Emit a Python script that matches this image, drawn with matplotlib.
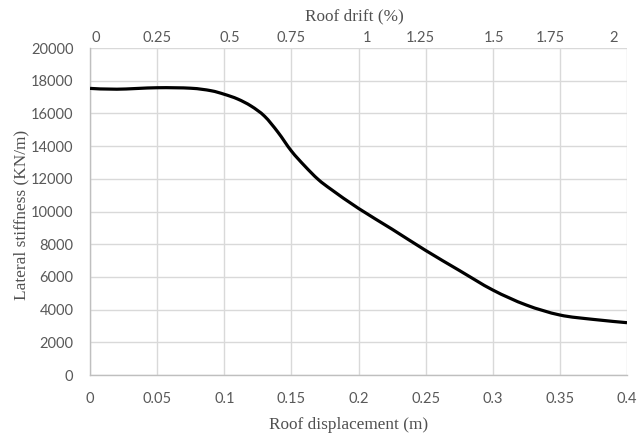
import numpy as np
import matplotlib.pyplot as plt
from matplotlib.path import Path
from matplotlib.patches import PathPatch
from matplotlib.transforms import ScaledTranslation

# roof displacement (m) vs lateral stiffness (KN/m)
disp = [0, 0.02, 0.05, 0.075, 0.09, 0.1, 0.11, 0.12, 0.13, 0.14, 0.15,
        0.16, 0.17, 0.18, 0.2, 0.225, 0.25, 0.275, 0.3, 0.325, 0.35, 0.375, 0.4]
stiff = [17530, 17480, 17570, 17540, 17390, 17170, 16880, 16450, 15830, 14850, 13700,
         12780, 11960, 11330, 10190, 8920, 7620, 6400, 5200, 4280, 3670, 3400, 3200]

x_ticks = [0, 0.05, 0.1, 0.15, 0.2, 0.25, 0.3, 0.35, 0.4]
x_labels = ['0', '0.05', '0.1', '0.15', '0.2', '0.25', '0.3', '0.35', '0.4']
drift_ticks = [0, 0.25, 0.5, 0.75, 1, 1.25, 1.5, 1.75, 2]
drift_labels = ['0', '0.25', '0.5', '0.75', '1', '1.25', '1.5', '1.75', '2']
y_ticks = list(range(0, 20001, 2000))

# Excel nudges the top labels a few pixels off their ticks
drift_label_shift = [6, 0, 6, 0, 8, -5, 1, -10, -13]

tick_font = dict(family='Lato', size=10.5, color='#595959')
label_font = dict(family='Liberation Serif', size=12.4, color='#505050')

fig = plt.figure(figsize=(6.37, 4.38), dpi=100)
ax = fig.add_axes([0.1413, 0.1438, 0.843, 0.7466])

# smoothed line like Excel: Catmull-Rom segments as cubic Bezier curves
pts = np.column_stack([disp, stiff])
verts = [pts[0]]
codes = [Path.MOVETO]
for i in range(len(pts) - 1):
    p0 = pts[max(i - 1, 0)]
    p1 = pts[i]
    p2 = pts[i + 1]
    p3 = pts[min(i + 2, len(pts) - 1)]
    verts += [p1 + (p2 - p0) / 6, p2 - (p3 - p1) / 6, p2]
    codes += [Path.CURVE4] * 3
ax.add_patch(PathPatch(Path(verts, codes), fill=False, edgecolor='black',
                       lw=2.3, capstyle='butt', zorder=3))

ax.set_xlim(0, 0.4)
ax.set_ylim(0, 20000)
ax.set_xticks(x_ticks)
ax.set_xticklabels(x_labels, **tick_font)
ax.set_yticks(y_ticks)
ax.set_yticklabels([str(v) for v in y_ticks], **tick_font)
ax.tick_params(length=0)
ax.tick_params(axis='x', pad=12)
ax.tick_params(axis='y', pad=12)
ax.grid(True, color='#d9d9d9', lw=1)
ax.set_axisbelow(True)
for side in ['top', 'right']:
    ax.spines[side].set_visible(False)
for side in ['left', 'bottom']:
    ax.spines[side].set_color('#bfbfbf')
    ax.spines[side].set_linewidth(1)

ax.set_xlabel('Roof displacement (m)', labelpad=8.5, x=0.481, **label_font)
ax.set_ylabel('Lateral stiffness (KN/m)', labelpad=1, y=0.49, **label_font)

# top axis: roof drift in percent
top = ax.secondary_xaxis('top', functions=(lambda x: x * 5, lambda x: x / 5))
top.set_xticks(drift_ticks)
top.set_xticklabels(drift_labels, **tick_font)
top.tick_params(length=0, pad=2.5)
top.spines['top'].set_visible(False)
top.set_xlabel('Roof drift (%)', labelpad=7.5, x=0.4925, **label_font)
for tick, dx in zip(top.xaxis.get_major_ticks(), drift_label_shift):
    lab = tick.label2
    lab.set_transform(lab.get_transform() + ScaledTranslation(dx / 100, 0, fig.dpi_scale_trans))

fig.savefig('out.png', dpi=100)
